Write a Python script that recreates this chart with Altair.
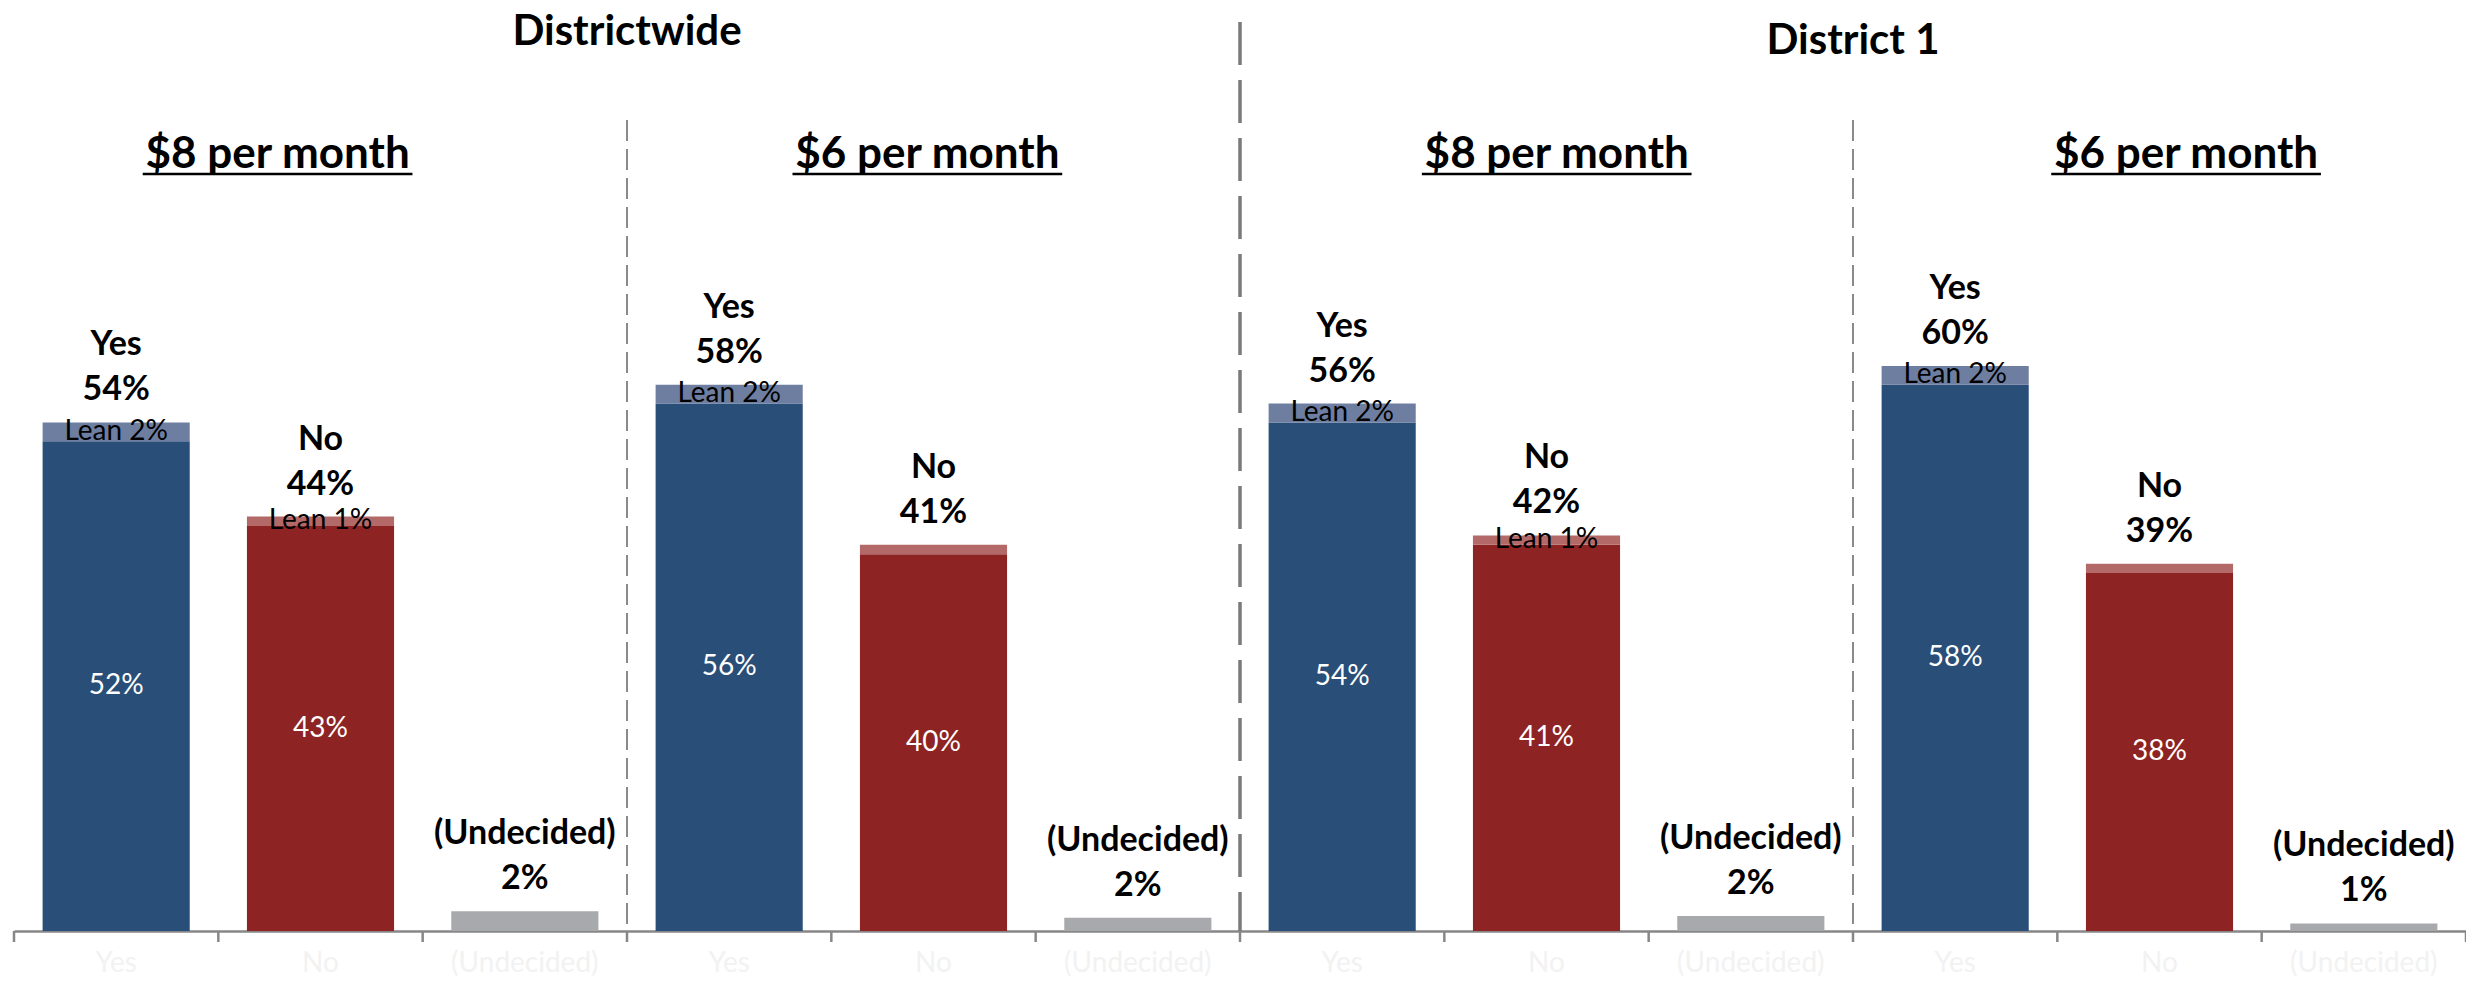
import altair as alt
import pandas as pd

# ---------------- data ----------------
panels = ["DW8", "DW6", "D18", "D16"]
categories = ["Yes", "No", "(Undecided)"]
yes_base = [52, 56, 54, 58]
yes_lean = [2, 2, 2, 2]
no_base = [43, 40, 41, 38]
no_lean = [1, 1, 1, 1]
undecided = [2.1, 1.4, 1.6, 0.8]
yes_total_labels = ["54%", "58%", "56%", "60%"]
no_total_labels = ["44%", "41%", "42%", "39%"]
undecided_labels = ["2%", "2%", "2%", "1%"]
yes_lean_labels = ["Lean 2%", "Lean 2%", "Lean 2%", "Lean 2%"]
no_lean_labels = ["Lean 1%", "", "Lean 1%", ""]
headings = ["$8 per month", "$6 per month", "$8 per month", "$6 per month"]
heading_pos = [1.29, 4.47, 7.55, 10.63]   # in category-slot units
groups = ["Districtwide", "District 1"]
group_pos = [3, 9]
tick_pos = list(range(13))

# ---------------- build table ----------------
rows = []
for i, p in enumerate(panels):
    rows.append(dict(slot=f"{p}|Yes", cat="Yes", base=yes_base[i], lean=yes_lean[i],
                     top=yes_total_labels[i], inner=f"{yes_base[i]}%",
                     leanlab=yes_lean_labels[i], leankey="Yes lean"))
    rows.append(dict(slot=f"{p}|No", cat="No", base=no_base[i], lean=no_lean[i],
                     top=no_total_labels[i], inner=f"{no_base[i]}%",
                     leanlab=no_lean_labels[i], leankey="No lean"))
    rows.append(dict(slot=f"{p}|(Undecided)", cat="(Undecided)", base=undecided[i], lean=0,
                     top=undecided_labels[i], inner="", leanlab="", leankey=""))
df = pd.DataFrame(rows)
df["total"] = df["base"] + df["lean"]
df["mid"] = df["base"] / 2
df["leanmid"] = df["base"] + df["lean"] / 2
slots = list(df["slot"])

FONT = "Lato"
W, H = 2452, 923

color_scale = alt.Scale(
    domain=["Yes", "No", "(Undecided)", "Yes lean", "No lean"],
    range=["#294E78", "#8E2323", "#A8A9AC", "#6E7EA1", "#B46969"],
)
yscale = alt.Scale(domain=[0, 98], nice=False, zero=True)

xband = alt.X(
    "slot:N", sort=slots,
    scale=alt.Scale(paddingInner=0.28, paddingOuter=0.14),
    axis=alt.Axis(
        title=None, ticks=False, grid=False, labelAngle=0,
        labelExpr="split(datum.value, '|')[1]",
        labelColor="#f2f2f2", labelFont=FONT, labelFontSize=28,
        labelPadding=32, labelBaseline="middle",
        domainColor="#878787", domainWidth=2.5,
    ),
)

base = alt.Chart(df)

bars = base.mark_bar().encode(
    x=xband,
    y=alt.Y("base:Q", scale=yscale, axis=None),
    color=alt.Color("cat:N", scale=color_scale, legend=None),
)
lean_bars = base.transform_filter("datum.lean > 0").mark_bar().encode(
    x=xband,
    y=alt.Y("base:Q", scale=yscale, axis=None),
    y2="total:Q",
    color=alt.Color("leankey:N", scale=color_scale, legend=None),
)
inner = base.transform_filter("datum.inner != ''").mark_text(
    font=FONT, fontSize=28, color="white", baseline="middle"
).encode(x=xband, y=alt.Y("mid:Q", scale=yscale, axis=None), text="inner:N")

lean_txt = base.transform_filter("datum.leanlab != ''").mark_text(
    font=FONT, fontSize=28, color="black", baseline="middle"
).encode(x=xband, y=alt.Y("leanmid:Q", scale=yscale, axis=None), text="leanlab:N")

top_val = base.mark_text(
    font=FONT, fontSize=34, fontWeight="bold", color="black", baseline="alphabetic", dy=-22
).encode(x=xband, y=alt.Y("total:Q", scale=yscale, axis=None), text="top:N")

top_cat = base.mark_text(
    font=FONT, fontSize=34, fontWeight="bold", color="black", baseline="alphabetic", dy=-67
).encode(x=xband, y=alt.Y("total:Q", scale=yscale, axis=None), text="cat:N")

main = alt.layer(bars, lean_bars, inner, lean_txt, top_val, top_cat)

# ---------------- decorations on a slot-unit scale ----------------
xq_scale = alt.Scale(domain=[0, 12], nice=False, zero=False)

def xq(field):
    return alt.X(field, scale=xq_scale, axis=None)

ticks = alt.Chart(pd.DataFrame({"t": tick_pos})).mark_rule(
    color="#878787", strokeWidth=2.5
).encode(x=xq("t:Q"), y=alt.value(H), y2=alt.value(H + 11))

minor = alt.Chart(pd.DataFrame({"t": [3, 9]})).mark_rule(
    color="#8A8A8A", strokeWidth=2, strokeDash=[21, 8]
).encode(x=xq("t:Q"), y=alt.value(112), y2=alt.value(H))

major = alt.Chart(pd.DataFrame({"t": [6]})).mark_rule(
    color="#7A7A7A", strokeWidth=3.5, strokeDash=[43, 15]
).encode(x=xq("t:Q"), y=alt.value(14), y2=alt.value(H))

hd = pd.DataFrame({"h": headings, "c": heading_pos})
head_txt = alt.Chart(hd).mark_text(
    font=FONT, fontSize=44, fontWeight="bold", color="black", baseline="alphabetic"
).encode(x=xq("c:Q"), y=alt.value(160), text="h:N")
head_line = alt.Chart(hd).transform_calculate(
    a="datum.c - 0.66", b="datum.c + 0.66"
).mark_rule(color="black", strokeWidth=2.5).encode(
    x=xq("a:Q"), x2="b:Q", y=alt.value(166)
)

gd = pd.DataFrame({"g": groups, "c": group_pos})
g1 = alt.Chart(gd).transform_filter(f"datum.g == '{groups[0]}'").mark_text(
    font=FONT, fontSize=42, fontWeight="bold", color="black", baseline="alphabetic"
).encode(x=xq("c:Q"), y=alt.value(37), text="g:N")
g2 = alt.Chart(gd).transform_filter(f"datum.g == '{groups[1]}'").mark_text(
    font=FONT, fontSize=42, fontWeight="bold", color="black", baseline="alphabetic"
).encode(x=xq("c:Q"), y=alt.value(46), text="g:N")

deco = alt.layer(ticks, minor, major, head_txt, head_line, g1, g2)

chart = alt.layer(main, deco).resolve_scale(x="independent").properties(
    width=W, height=H,
    padding={"left": 6, "top": 0, "right": 0, "bottom": 47},
    autosize=alt.AutoSizeParams(type="none"),
).configure_view(stroke=None)

chart.save("out.html", embed_options={"renderer": "svg", "actions": False})
